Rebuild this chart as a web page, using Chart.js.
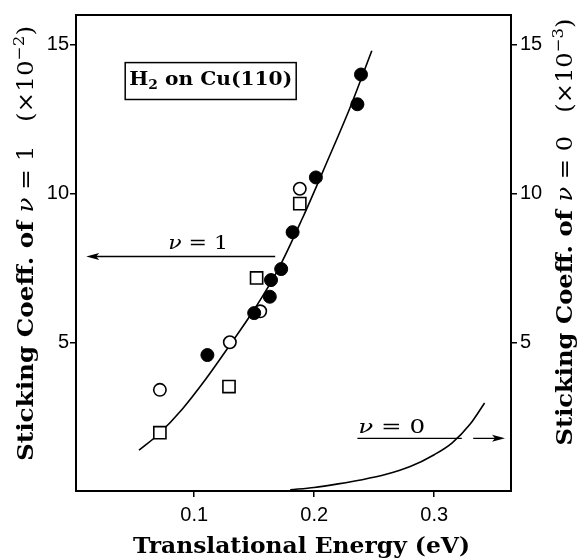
<!DOCTYPE html>
<html>
<head>
<meta charset="utf-8">
<script src="https://cdn.jsdelivr.net/npm/chart.js@4.4.1/dist/chart.umd.min.js"></script>
<style>html,body{margin:0;padding:0;background:#fff;overflow:hidden}canvas{display:block}</style>
</head>
<body>
<canvas id="chart" width="577" height="558"></canvas>
<script>
// ---------------- data ----------------
const xTicks = [0.1, 0.2, 0.3];
const xTickLabels = ['0.1', '0.2', '0.3'];
const yTicks = [5, 10, 15];
const yTickLabels = ['5', '10', '15'];
const y2Ticks = [5, 10, 15];
const y2TickLabels = ['5', '10', '15'];

// nu = 1 sticking coefficient (x10^-2), filled circles
const filledE = [0.111, 0.150, 0.163, 0.164, 0.1725, 0.182, 0.2014, 0.236, 0.239];
const filledS = [4.57, 5.98, 6.53, 7.09, 7.46, 8.70, 10.54, 13.0, 14.0];
// open circles
const openE = [0.0714, 0.1297, 0.155, 0.188];
const openS = [3.40, 5.00, 6.04, 10.16];
// open squares
const squareE = [0.0714, 0.129, 0.152, 0.188];
const squareS = [1.96, 3.51, 7.16, 9.66];
// fitted curve nu = 1 (left axis)
const fitV1E = [0.054, 0.070, 0.090, 0.110, 0.130, 0.150, 0.170, 0.190, 0.210, 0.230, 0.248];
const fitV1S = [1.37, 1.90, 2.75, 3.78, 4.92, 6.10, 7.45, 9.15, 11.0, 12.9, 14.8];
// curve nu = 0 (right axis, x10^-3)
const fitV0E = [0.180, 0.200, 0.220, 0.240, 0.260, 0.280, 0.300, 0.315, 0.330, 0.342];
const fitV0S = [0.04, 0.12, 0.24, 0.38, 0.56, 0.82, 1.22, 1.62, 2.25, 2.96];

const zip = (xs, ys) => xs.map((x, i) => ({ x: x, y: ys[i] }));

// ---------------- annotation layout (data coordinates) ----------------
const notes = {
  box: { x0: 0.0425, x1: 0.185, y0: 13.16, y1: 14.40, tx0: 0.0458, tx1: 0.1817, base: 13.66 },
  nu1: { tip: 0.010, end: 0.1675, y: 7.88, tx0: 0.0783, tx1: 0.1283, base: 8.12 },
  nu0: { l0: 0.236, l1: 0.323, a0: 0.3325, tip: 0.359, y: 1.77, tx0: 0.2367, tx1: 0.2925, base: 1.94 }
};

const SERIF = '"DejaVu Serif", "Liberation Serif", serif';
const SANS = '"Liberation Sans", Arial, sans-serif';

function drawRuns(ctx, runs, cx, base, targetW, rot) {
  let total = 0;
  runs.forEach(r => { ctx.font = r.font; r.w = ctx.measureText(r.text).width; total += r.w; });
  const sx = targetW ? targetW / total : 1;
  ctx.save();
  ctx.translate(cx, base);
  if (rot) ctx.rotate(rot);
  ctx.scale(sx, 1);
  ctx.textAlign = 'left';
  ctx.textBaseline = 'alphabetic';
  ctx.fillStyle = '#000';
  let x = -total / 2;
  runs.forEach(r => { ctx.font = r.font; ctx.fillText(r.text, x, r.dy || 0); x += r.w; });
  ctx.restore();
}

function arrowHead(ctx, x, y, dir) {
  ctx.beginPath();
  ctx.moveTo(x, y);
  ctx.lineTo(x - dir * 13, y - 3.5);
  ctx.lineTo(x - dir * 10, y);
  ctx.lineTo(x - dir * 13, y + 3.5);
  ctx.closePath();
  ctx.fill();
}

const decor = {
  id: 'decor',
  afterDraw(chart) {
    const ctx = chart.ctx;
    const a = chart.chartArea;
    const X = v => chart.scales.x.getPixelForValue(v);
    const Y = v => chart.scales.y.getPixelForValue(v);
    ctx.save();
    ctx.strokeStyle = '#000';
    ctx.fillStyle = '#000';
    // frame
    ctx.lineWidth = 2;
    ctx.strokeRect(a.left, a.top, a.right - a.left, a.bottom - a.top);

    // box label
    const b = notes.box;
    ctx.lineWidth = 1.5;
    ctx.strokeRect(X(b.x0), Y(b.y1), X(b.x1) - X(b.x0), Y(b.y0) - Y(b.y1));
    const bf = 'bold 19px ' + SERIF;
    drawRuns(ctx, [
      { text: 'H', font: bf },
      { text: '2', font: 'bold 13px ' + SERIF, dy: 4 },
      { text: ' on Cu(110)', font: bf }
    ], (X(b.tx0) + X(b.tx1)) / 2, Y(b.base), X(b.tx1) - X(b.tx0));

    // nu = 1 arrow
    const n1 = notes.nu1;
    ctx.lineWidth = 1.4;
    ctx.beginPath();
    ctx.moveTo(X(n1.end), Y(n1.y));
    ctx.lineTo(X(n1.tip) + 8, Y(n1.y));
    ctx.stroke();
    arrowHead(ctx, X(n1.tip), Y(n1.y), -1);
    drawRuns(ctx, [
      { text: 'ν', font: 'italic 19px ' + SERIF },
      { text: ' = 1', font: '19px ' + SERIF }
    ], (X(n1.tx0) + X(n1.tx1)) / 2, Y(n1.base), X(n1.tx1) - X(n1.tx0));

    // nu = 0 arrow
    const n0 = notes.nu0;
    ctx.beginPath();
    ctx.moveTo(X(n0.l0), Y(n0.y));
    ctx.lineTo(X(n0.l1), Y(n0.y));
    ctx.moveTo(X(n0.a0), Y(n0.y));
    ctx.lineTo(X(n0.tip) - 8, Y(n0.y));
    ctx.stroke();
    arrowHead(ctx, X(n0.tip), Y(n0.y), 1);
    drawRuns(ctx, [
      { text: 'ν', font: 'italic 19px ' + SERIF },
      { text: ' = 0', font: '19px ' + SERIF }
    ], (X(n0.tx0) + X(n0.tx1)) / 2, Y(n0.base), X(n0.tx1) - X(n0.tx0));

    // axis titles
    const tf = 'bold 22px ' + SERIF;
    const rf = '22px ' + SERIF;
    drawRuns(ctx, [{ text: 'Translational Energy (eV)', font: tf }], 301.5, 553, 337);
    const side = (nu, exp) => [
      { text: 'Sticking Coeff. of ', font: tf },
      { text: 'ν', font: 'italic 22px ' + SERIF },
      { text: ' = ' + nu + '   (×10', font: rf },
      { text: '−' + exp, font: '15px ' + SERIF, dy: -9 },
      { text: ')', font: rf }
    ];
    drawRuns(ctx, side('1', '2'), 33, 243.5, 435, -Math.PI / 2);
    drawRuns(ctx, side('0', '3'), 572, 232, 427, -Math.PI / 2);
    ctx.restore();
  }
};

const tickFont = { family: SANS, size: 20 };
const gridCfg = { drawOnChartArea: false, drawTicks: true, tickLength: 6, color: '#000', lineWidth: 1.5 };

new Chart(document.getElementById('chart'), {
  type: 'scatter',
  data: {
    datasets: [
      { label: 'filled', data: zip(filledE, filledS), order: 0, pointStyle: 'circle', pointRadius: 6.5,
        backgroundColor: '#000', borderColor: '#000', borderWidth: 1, showLine: false, yAxisID: 'y' },
      { label: 'open', data: zip(openE, openS), order: 1, pointStyle: 'circle', pointRadius: 6.2,
        backgroundColor: '#fff', borderColor: '#000', borderWidth: 1.6, showLine: false, yAxisID: 'y' },
      { label: 'square', data: zip(squareE, squareS), order: 2, pointStyle: 'rect', pointRadius: 8.6,
        backgroundColor: '#fff', borderColor: '#000', borderWidth: 1.6, showLine: false, yAxisID: 'y' },
      { label: 'fit nu=1', data: zip(fitV1E, fitV1S), order: 3, showLine: true, pointRadius: 0,
        borderColor: '#000', borderWidth: 1.6, cubicInterpolationMode: 'monotone', fill: false, yAxisID: 'y' },
      { label: 'fit nu=0', data: zip(fitV0E, fitV0S), order: 3, showLine: true, pointRadius: 0,
        borderColor: '#000', borderWidth: 1.6, cubicInterpolationMode: 'monotone', fill: false, yAxisID: 'y2' }
    ]
  },
  options: {
    responsive: false,
    animation: false,
    layout: { padding: { top: 12, left: 0, right: 0, bottom: 0 } },
    plugins: { legend: { display: false }, tooltip: { enabled: false } },
    scales: {
      x: {
        type: 'linear', position: 'bottom', min: 0.0015, max: 0.364,
        afterFit: s => { s.height = 67; },
        afterBuildTicks: s => { s.ticks = xTicks.map(v => ({ value: v })); },
        ticks: { callback: v => xTickLabels[xTicks.indexOf(v)], font: tickFont, color: '#000', padding: 6, maxRotation: 0, autoSkip: false },
        grid: gridCfg, border: { display: false }
      },
      y: {
        type: 'linear', position: 'left', min: 0, max: 16,
        afterFit: s => { s.width = 76; },
        afterBuildTicks: s => { s.ticks = yTicks.map(v => ({ value: v })); },
        ticks: { callback: v => yTickLabels[yTicks.indexOf(v)], font: tickFont, color: '#000', padding: 1, autoSkip: false },
        grid: gridCfg, border: { display: false }
      },
      y2: {
        type: 'linear', position: 'right', min: 0, max: 16,
        afterFit: s => { s.width = 66; },
        afterBuildTicks: s => { s.ticks = y2Ticks.map(v => ({ value: v })); },
        ticks: { callback: v => y2TickLabels[y2Ticks.indexOf(v)], font: tickFont, color: '#000', padding: 3, autoSkip: false },
        grid: gridCfg, border: { display: false }
      }
    }
  },
  plugins: [decor]
});
</script>
</body>
</html>
